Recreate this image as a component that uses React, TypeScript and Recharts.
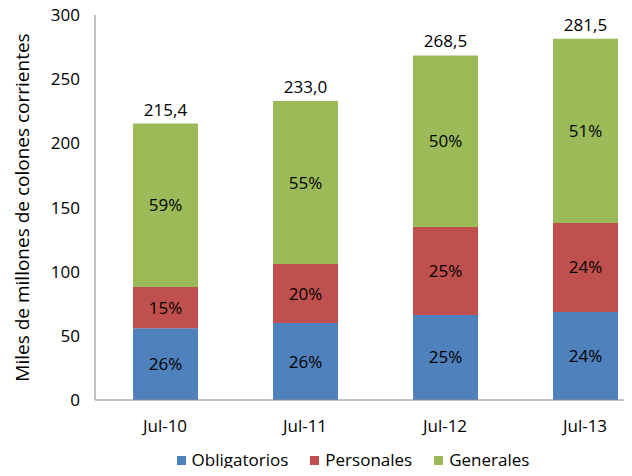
import React from 'react';
import { BarChart, Bar, XAxis, YAxis, Legend, LabelList } from 'recharts';

const months = ['Jul-10', 'Jul-11', 'Jul-12', 'Jul-13'];
const obligatorios = [56.0, 60.0, 66.3, 68.6];
const personales = [32.0, 46.0, 68.5, 69.4];
const generales = [127.4, 127.0, 133.7, 143.5];
const totalLabels = ['215,4', '233,0', '268,5', '281,5'];
const pctObligatorios = ['26%', '26%', '25%', '24%'];
const pctPersonales = ['15%', '20%', '25%', '24%'];
const pctGenerales = ['59%', '55%', '50%', '51%'];
const yTicks = [0, 50, 100, 150, 200, 250, 300];

const seriesInfo = [
  { key: 'obligatorios', name: 'Obligatorios', color: '#4F81BD' },
  { key: 'personales', name: 'Personales', color: '#C0504D' },
  { key: 'generales', name: 'Generales', color: '#9BBB59' },
];

const data = months.map((m, i) => ({
  month: m,
  obligatorios: obligatorios[i],
  personales: personales[i],
  generales: generales[i],
  total: totalLabels[i],
  pO: pctObligatorios[i],
  pP: pctPersonales[i],
  pG: pctGenerales[i],
}));

const FONT = '"Open Sans", Lato, sans-serif';
const textStyle = { fill: '#000', fontSize: 17, fontFamily: FONT };

const YLabel = (props: any) => {
  const vb = props.viewBox || {};
  const cx = 22;
  const cy = vb.y + vb.height / 2;
  return (
    <text
      x={cx}
      y={cy}
      transform={`rotate(-90, ${cx}, ${cy})`}
      textAnchor="middle"
      dominantBaseline="central"
      style={{ fill: '#000', fontSize: 19, fontFamily: FONT }}
    >
      Miles de millones de colones corrientes
    </text>
  );
};

// keeps the legend in series order, like the original
const LegendContent = () => (
  <div
    style={{
      display: 'flex',
      justifyContent: 'center',
      paddingLeft: 96,
      height: 20,
      fontFamily: FONT,
      fontSize: 17,
      color: '#000',
      lineHeight: '20px',
    }}
  >
    {seriesInfo.map((s) => (
      <div key={s.key} style={{ display: 'flex', alignItems: 'center', marginRight: 22 }}>
        <span style={{ width: 9, height: 9, background: s.color, marginRight: 6, display: 'inline-block' }} />
        <span>{s.name}</span>
      </div>
    ))}
  </div>
);

export default function App() {
  return (
    <div style={{ margin: -8, width: 632, height: 476, overflow: 'hidden', background: '#fff' }}>
      <BarChart
        width={655}
        height={476}
        data={data}
        margin={{ top: 15, right: 0, bottom: 26, left: 20 }}
        barSize={65}
      >
        <XAxis
          dataKey="month"
          height={30}
          axisLine={{ stroke: '#868686' }}
          tickLine={false}
          tickSize={0}
          tickMargin={20}
          tick={textStyle}
        />
        <YAxis
          width={75}
          domain={[0, 300]}
          ticks={yTicks}
          axisLine={{ stroke: '#868686' }}
          tickLine={false}
          tickSize={0}
          tickMargin={15}
          tick={textStyle}
          label={<YLabel />}
        />
        <Legend
          verticalAlign="bottom"
          height={20}
          content={<LegendContent />}
          wrapperStyle={{ bottom: 6, left: 0, width: 632 }}
        />
        {seriesInfo.map((s, idx) => (
          <Bar key={s.key} dataKey={s.key} name={s.name} stackId="a" fill={s.color} isAnimationActive={false}>
            <LabelList dataKey={['pO', 'pP', 'pG'][idx]} position="center" style={textStyle} />
            {idx === 2 && <LabelList dataKey="total" position="top" offset={8} style={textStyle} />}
          </Bar>
        ))}
      </BarChart>
    </div>
  );
}
